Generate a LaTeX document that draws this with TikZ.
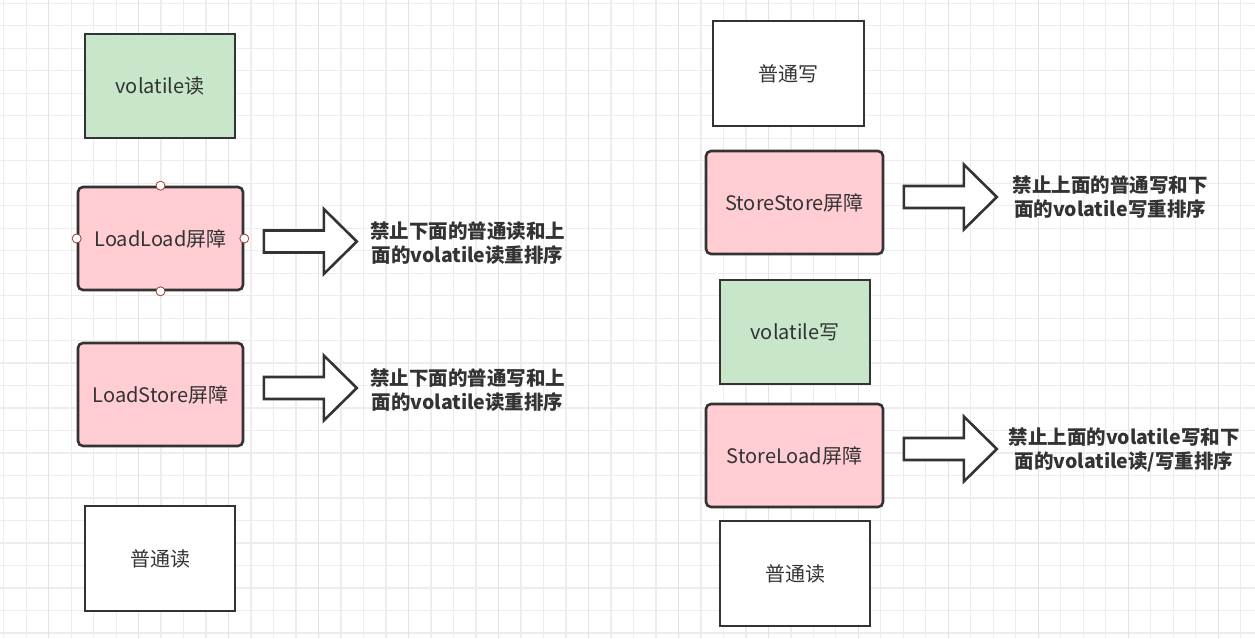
\documentclass[tikz,border=0pt]{standalone}
\usepackage{fontspec}
\setmainfont{Noto Sans CJK SC}
\definecolor{gridminor}{HTML}{EDEDED}
\definecolor{gridmajor}{HTML}{E2E2E2}
\definecolor{boxline}{HTML}{333333}
\definecolor{greenfill}{HTML}{C8E6C9}
\definecolor{pinkfill}{HTML}{FFCDD2}
\definecolor{handleline}{HTML}{A33A3A}
\tikzset{
  opbox/.style={draw=boxline, line width=2.6pt, text=boxline, inner sep=0pt,
    font=\fontsize{20}{24}\selectfont},
  vbox/.style={opbox, fill=greenfill, minimum width=150pt, minimum height=104pt},
  plainbox/.style={opbox, fill=white, minimum width=150pt, minimum height=105pt},
  barrier/.style={opbox, fill=pinkfill, rounded corners=5pt, minimum height=103pt},
  note/.style={align=center, text=boxline, inner sep=0pt,
    font=\bfseries\fontsize{19.5}{24.5}\selectfont},
  barrow/.style={draw=boxline, line width=2.6pt, fill=white, line join=miter},
  handle/.style={draw=handleline, fill=white, line width=0.8pt},
}
\begin{document}
\begin{tikzpicture}[x=1pt, y=-1pt]
  \useasboundingbox (0,0) rectangle (1255,638);
  % Grid
  \fill[white] (0,0) rectangle (1255,638);
  \foreach \k in {0,...,55}
    \draw[gridminor, line width=1.3pt] (3.7+22.49*\k,0) -- (3.7+22.49*\k,638);
  \foreach \k in {0,...,28}
    \draw[gridminor, line width=1.3pt] (0,3.3+22.49*\k) -- (1255,3.3+22.49*\k);
  \foreach \k in {0,...,13}
    \draw[gridmajor, line width=1.3pt] (48.7+89.96*\k,0) -- (48.7+89.96*\k,638);
  % Volatile read side
  \node[vbox] (vread) at (160,86) {volatile读};
  \node[barrier, minimum width=165pt] (llbar) at (160.5,238.5) {LoadLoad屏障};
  \node[barrier, minimum width=165pt] (lsbar) at (160.5,394.5) {LoadStore屏障};
  \node[plainbox] (nread) at (160,558.5) {普通读};
  % Volatile write side
  \node[plainbox, minimum width=151pt] (nwrite) at (788.5,73.5) {普通写};
  \node[barrier, minimum width=177pt] (ssbar) at (794.5,202.5) {StoreStore屏障};
  \node[vbox] (vwrite) at (795,332) {volatile写};
  \node[barrier, minimum width=177pt] (slbar) at (794.5,455.5) {StoreLoad屏障};
  \node[plainbox] (nread2) at (795,573.5) {普通读};
  % Selection handles
  \foreach \side in {north,south,east,west}
    \draw[handle] (llbar.\side) circle (4.5pt);
  % Block arrows
  \foreach \barname/\dy in {llbar/-3, lsbar/6.5, ssbar/5.5, slbar/6.5}
    \draw[barrow] ([xshift=19.5pt, yshift=\dy pt+11pt]\barname.east)
      -- ++(60,0) -- ++(0,-21.5) -- ++(33,32.5) -- ++(-33,32.5)
      -- ++(0,-21.5) -- ++(-60,0) -- cycle;
  % Notes
  \node[note] (llnote) at (467.5,243) {禁止下面的普通读和上\\面的volatile读重排序};
  \node[note] (lsnote) at (467.5,390) {禁止下面的普通写和上\\面的volatile读重排序};
  \node[note] (ssnote) at (1110,197) {禁止上面的普通写和下\\面的volatile写重排序};
  \node[note] (slnote) at (1124,450) {禁止上面的volatile写和下\\面的volatile读/写重排序};
\end{tikzpicture}
\end{document}
